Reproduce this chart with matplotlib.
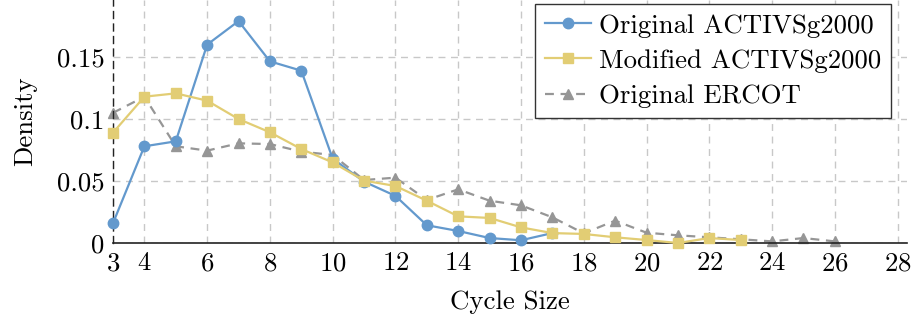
import matplotlib
matplotlib.use("Agg")
import matplotlib.pyplot as plt

plt.rcParams['font.family'] = ['cmr10', 'DejaVu Serif']
plt.rcParams['mathtext.fontset'] = 'cm'
plt.rcParams['axes.unicode_minus'] = False
plt.rcParams['axes.formatter.use_mathtext'] = True

# Cycle-size distributions
orig_x = [3, 4, 5, 6, 7, 8, 9, 10, 11, 12, 13, 14, 15, 16, 17]
orig_y = [0.016, 0.078, 0.082, 0.160, 0.179, 0.1465, 0.139, 0.068, 0.0495,
          0.038, 0.0143, 0.0097, 0.004, 0.0022, 0.008]

mod_x = [3, 4, 5, 6, 7, 8, 9, 10, 11, 12, 13, 14, 15, 16, 17, 18, 19, 20, 21, 22, 23]
mod_y = [0.089, 0.118, 0.1207, 0.1148, 0.100, 0.0893, 0.0758, 0.065, 0.0503,
         0.046, 0.0341, 0.0215, 0.0202, 0.0126, 0.008, 0.0073, 0.0046, 0.0024,
         0.0, 0.004, 0.0024]

ercot_x = [3, 4, 5, 6, 7, 8, 9, 10, 11, 12, 13, 14, 15, 16, 17, 18, 19, 20,
           21, 22, 23, 24, 25, 26]
ercot_y = [0.105, 0.118, 0.078, 0.0745, 0.0804, 0.0798, 0.0737, 0.071, 0.0508,
           0.0527, 0.0347, 0.0433, 0.0341, 0.0304, 0.0207, 0.0078, 0.018,
           0.0083, 0.0062, 0.0046, 0.003, 0.0013, 0.004, 0.0013]

x_ticks = [3, 4, 6, 8, 10, 12, 14, 16, 18, 20, 22, 24, 26, 28]
y_ticks = [0, 0.05, 0.1, 0.15]
y_tick_labels = ["0", "0.05", "0.1", "0.15"]

blue = "#6399cd"
yellow = "#e2cd74"
gray = "#969696"
fs = 19.3

fig = plt.figure(figsize=(9.13, 3.23), dpi=100)
ax = fig.add_axes([113 / 913, 80 / 323, (907 - 113) / 913, 243 / 323])

ax.plot(orig_x, orig_y, color=blue, marker="o", markersize=7.5, linewidth=1.6,
        label="Original ACTIVSg2000", clip_on=False, zorder=3)
ax.plot(mod_x, mod_y, color=yellow, marker="s", markersize=7, linewidth=1.6,
        label="Modified ACTIVSg2000", clip_on=False, zorder=3)
ax.plot(ercot_x, ercot_y, color=gray, marker="^", markersize=7, linewidth=1.6,
        linestyle=(0, (4, 3)), label="Original ERCOT", clip_on=False, zorder=2)

ax.set_xlim(3, 28.3)
ax.set_ylim(0, 0.196)
ax.set_xticks(x_ticks)
ax.set_yticks(y_ticks)
ax.set_yticklabels(y_tick_labels)
ax.tick_params(axis="both", length=0, labelsize=fs, pad=6)

ax.grid(True, color="#c8c8c8", linestyle=(0, (5, 4)), linewidth=1.0)
ax.set_axisbelow(True)

for side in ("top", "right"):
    ax.spines[side].set_visible(False)
ax.spines["bottom"].set_color("#222222")
ax.spines["bottom"].set_linewidth(1.2)
ax.spines["left"].set_color("#222222")
ax.spines["left"].set_linewidth(1.0)
ax.spines["left"].set_linestyle((0, (5, 4)))

ax.set_xlabel("Cycle Size", fontsize=fs, labelpad=11)
ax.set_ylabel("Density", fontsize=fs, labelpad=14)

leg = ax.legend(loc="upper right", fontsize=fs, frameon=True, fancybox=False,
                edgecolor="#333333", framealpha=1.0, borderpad=0.38,
                borderaxespad=0.0, handlelength=1.7, handletextpad=0.3,
                labelspacing=0.42, bbox_to_anchor=(0.98, 0.984))
leg.get_frame().set_linewidth(1.0)

fig.savefig("out.png", dpi=100)
